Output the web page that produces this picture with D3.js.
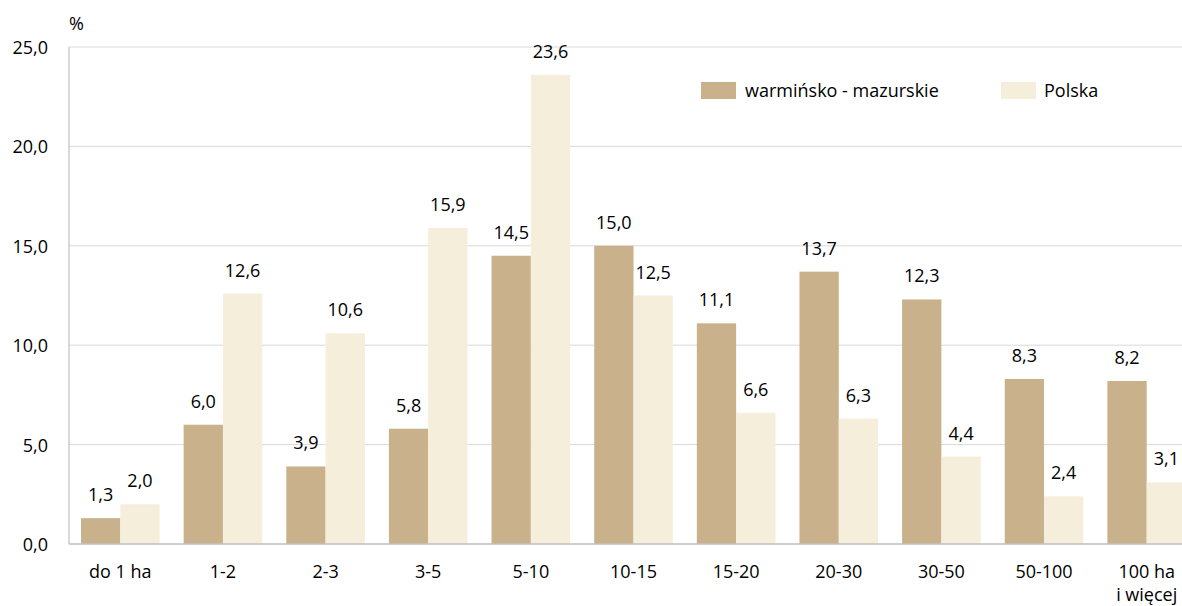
<!DOCTYPE html>
<html><head><meta charset="utf-8">
<script src="https://cdn.jsdelivr.net/npm/d3@7"></script>
<style>
body{margin:0;background:#fff;}
text{font-family:"Open Sans",sans-serif;fill:#000;}
</style></head>
<body><svg id="c" width="1182" height="606"></svg>
<script>
const categories = [["do 1 ha"],["1-2"],["2-3"],["3-5"],["5-10"],["10-15"],["15-20"],["20-30"],["30-50"],["50-100"],["100 ha","i więcej"]];
const seriesNames = ["warmińsko - mazurskie","Polska"];
const warm = [1.3,6.0,3.9,5.8,14.5,15.0,11.1,13.7,12.3,8.3,8.2];
const polska = [2.0,12.6,10.6,15.9,23.6,12.5,6.6,6.3,4.4,2.4,3.1];
const yTicks = [0,5,10,15,20,25];
const colors = ["#c9b28b","#f4eedb"];

const svg = d3.select("#c");
const pL = 69, pR = 1198, pT = 47, pB = 544;
const FS = "18px";
const fmt = v => d3.format(".1f")(v).replace(".", ",");

const x = d3.scaleBand().domain(d3.range(categories.length)).range([pL,pR]).paddingInner(0.234).paddingOuter(0.117);
const xs = d3.scaleBand().domain([0,1]).range([0,x.bandwidth()]);
const y = d3.scaleLinear().domain([0,25]).range([pB,pT]);

// gridlines
svg.append("g").selectAll("line").data(yTicks.filter(d=>d>0)).join("line")
  .attr("x1",pL).attr("x2",1182).attr("y1",d=>y(d)).attr("y2",d=>y(d))
  .attr("stroke","#d9d9d9").attr("stroke-width",1);

// y axis labels
const yAxis = d3.axisLeft(y).tickValues(yTicks).tickFormat(fmt).tickSize(0).tickPadding(21);
const ga = svg.append("g").attr("transform",`translate(${pL},0)`).call(yAxis);
ga.select(".domain").remove();
ga.selectAll("text").attr("font-size",FS).attr("font-family","Open Sans").attr("fill","#000").attr("dy","0.36em");

svg.append("text").attr("x",69).attr("y",30).attr("font-size",FS).text("%");

const series = [warm, polska];
series.forEach((vals, si) => {
  svg.append("g").selectAll("rect").data(vals).join("rect")
    .attr("x",(d,i)=>x(i)+xs(si)).attr("width",xs.bandwidth())
    .attr("y",d=>y(d)).attr("height",d=>y(0)-y(d)).attr("fill",colors[si]);
  svg.append("g").selectAll("text").data(vals).join("text")
    .attr("x",(d,i)=>x(i)+xs(si)+xs.bandwidth()/2).attr("y",d=>y(d)-17)
    .attr("text-anchor","middle").attr("font-size",FS).text(fmt);
});

// axes lines
svg.append("line").attr("x1",pL).attr("x2",1182).attr("y1",pB).attr("y2",pB).attr("stroke","#bfbfbf").attr("stroke-width",1.5);
svg.append("line").attr("x1",pL).attr("x2",pL).attr("y1",pT).attr("y2",pB).attr("stroke","#bfbfbf").attr("stroke-width",1.2);

// category labels
const cl = svg.append("g").selectAll("text").data(categories).join("text")
  .attr("x",(d,i)=>x(i)+x.bandwidth()/2).attr("y",578).attr("text-anchor","middle").attr("font-size",FS);
cl.selectAll("tspan").data(d=>d).join("tspan")
  .attr("x",function(){return this.parentNode.getAttribute("x");})
  .attr("dy",(d,i)=>i?23:0).text(d=>d);

// legend
const leg = [{x:701,tx:745},{x:1001,tx:1044}];
seriesNames.forEach((n,i)=>{
  svg.append("rect").attr("x",leg[i].x).attr("y",82).attr("width",35).attr("height",17).attr("fill",colors[i]);
  svg.append("text").attr("x",leg[i].tx).attr("y",97).attr("font-size",FS).text(n);
});
</script></body></html>
